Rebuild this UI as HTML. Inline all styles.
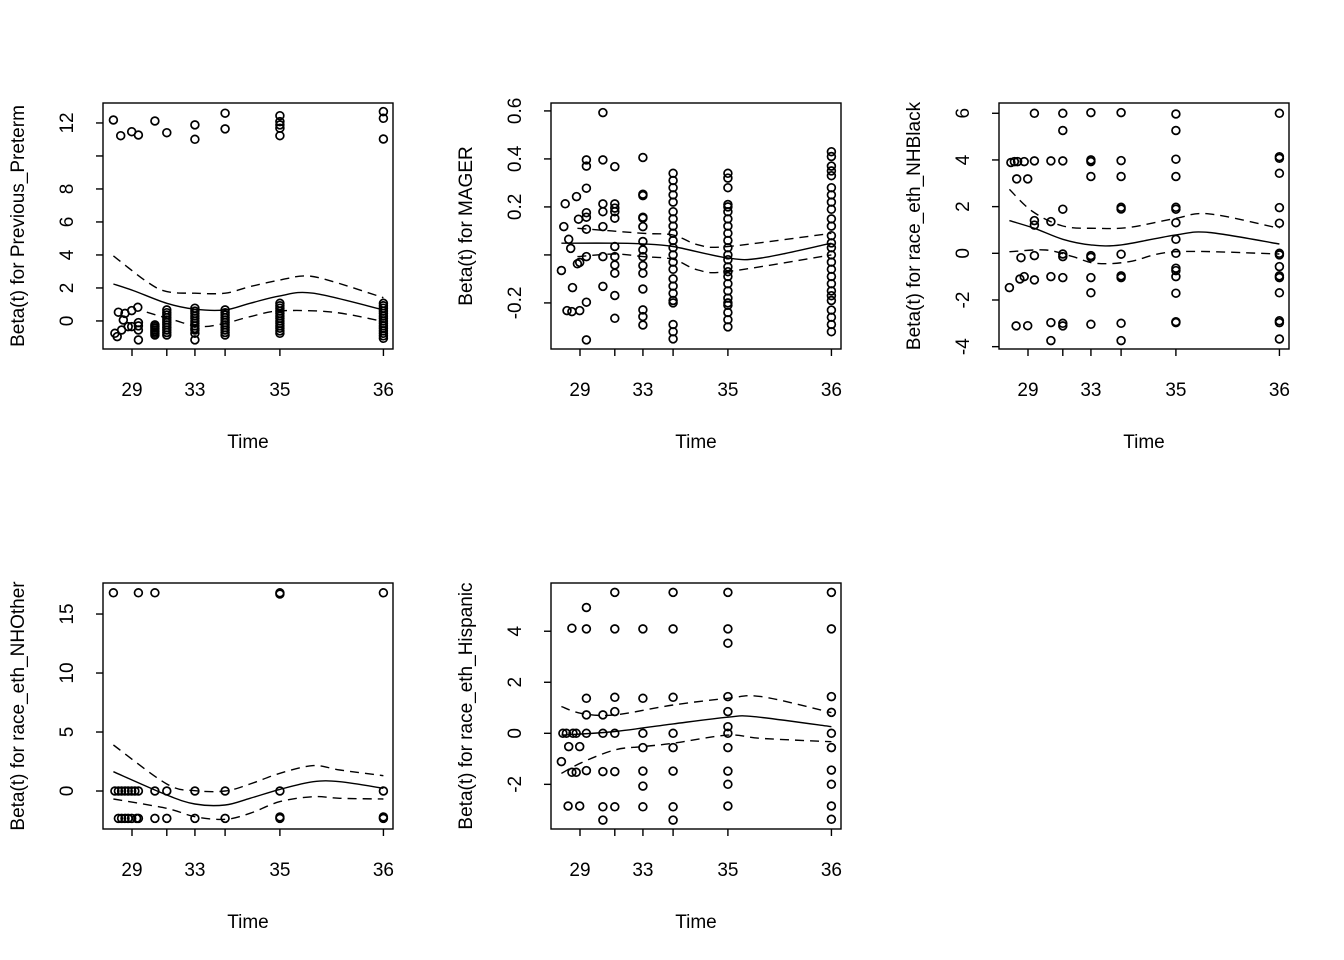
<!DOCTYPE html>
<html><head><meta charset="utf-8"><style>
html,body{margin:0;padding:0;background:#fff}
svg{display:block}
text{font-family:"Liberation Sans",Arial,sans-serif;fill:#000}
</style></head>
<body>
<svg id="fig" width="1344" height="960" viewBox="0 0 1344 960" xmlns="http://www.w3.org/2000/svg"></svg>
<script>
// shared x axis: transformed time positions
const tickTimes = ["29","31","33","34","35","36"];
const tickT = [0.1,0.22,0.317,0.421,0.61,0.967];
const tickShown = [true,false,true,false,true,true];

// Panel 1: Previous_Preterm
const p1Title = "Beta(t) for Previous_Preterm";
const p1Lim = [-1.70,13.21];
const p1YTicks = [0,2,4,6,8,10,12];
const p1YLabels = ["0","2","4","6","8","","12"];
const p1Pts = [[0.036,12.18],[0.061,11.23],[0.099,11.47],[0.122,11.27],[0.179,12.12],[0.22,11.41],[0.317,11.88],[0.317,11.01],[0.421,12.59],[0.421,11.64],[0.61,12.44],[0.61,12.08],[0.61,11.88],[0.61,11.68],[0.61,11.23],[0.967,12.69],[0.967,12.28],[0.967,11.03],
[0.053,0.53],[0.076,0.46],[0.099,0.63],[0.12,0.83],[0.07,0.06],[0.087,-0.34],[0.122,-0.1],[0.122,-0.55],[0.064,-0.55],[0.041,-0.75],[0.049,-0.95],[0.122,-1.15],[0.099,-0.34],[0.122,-0.3]];
const p1Cols = [[0.179,[-0.24,-0.34,-0.44,-0.55,-0.65,-0.75,-0.85]],[0.22,[0.67,0.5,0.36,0.2,0.06,-0.1,-0.24,-0.4,-0.55,-0.7,-0.85]],[0.317,[0.77,0.6,0.46,0.3,0.16,0,-0.14,-0.3,-0.45,-0.55,-0.75,-1.15]],[0.421,[0.67,0.5,0.36,0.2,0.06,-0.1,-0.24,-0.4,-0.55,-0.7,-0.85]],[0.61,[1.07,0.92,0.77,0.6,0.46,0.3,0.16,0,-0.14,-0.3,-0.44,-0.6,-0.75]],[0.967,[1.07,0.92,0.77,0.6,0.46,0.3,0.16,0,-0.14,-0.3,-0.44,-0.6,-0.75,-0.9,-1.05]]];
const p1FitT = [0.036,0.105,0.22,0.317,0.421,0.507,0.61,0.725,0.967];
const p1Fit = [2.24,1.84,1.07,0.71,0.67,1.07,1.52,1.68,0.67];
const p1UpT = [0.036,0.151,0.22,0.317,0.421,0.507,0.61,0.702,0.794,0.967];
const p1Up = [3.94,2.38,1.78,1.68,1.68,2.08,2.48,2.73,2.38,1.41];
const p1LoT = [0.151,0.243,0.334,0.421,0.507,0.61,0.794,0.967];
const p1Lo = [0.53,0.06,-0.34,-0.14,0.26,0.61,0.53,-0.04];

// Panel 2: MAGER
const p2Title = "Beta(t) for MAGER";
const p2Lim = [-0.392,0.633];
const p2YTicks = [-0.2,0,0.2,0.4,0.6];
const p2YLabels = ["-0.2","","0.2","0.4","0.6"];
const p2Pts = [[0.049,0.213],[0.044,0.118],[0.061,0.065],[0.068,0.027],[0.036,-0.065],[0.091,-0.037],[0.099,-0.031],[0.074,-0.136],[0.055,-0.232],[0.072,-0.236],[0.099,-0.232],[0.088,0.243],[0.095,0.149]];
const p2Cols = [[0.122,[0.396,0.37,0.278,0.176,0.157,0.107,-0.007,-0.197,-0.354]],[0.179,[0.593,0.396,0.2125,0.18,0.118,-0.007,-0.131]],[0.22,[0.368,0.2125,0.195,0.18,0.153,0.035,-0.007,-0.042,-0.076,-0.169,-0.264]],[0.317,[0.406,0.253,0.247,0.157,0.153,0.118,0.056,0.021,-0.007,-0.044,-0.076,-0.142,-0.229,-0.257,-0.292]],
[0.421,[0.34,0.31,0.28,0.25,0.22,0.18,0.15,0.12,0.09,0.06,0.03,0.0,-0.03,-0.06,-0.10,-0.13,-0.16,-0.19,-0.20,-0.29,-0.32,-0.35]],
[0.61,[0.34,0.32,0.28,0.21,0.20,0.18,0.15,0.12,0.09,0.06,0.03,0.0,-0.02,-0.05,-0.07,-0.09,-0.12,-0.15,-0.18,-0.20,-0.21,-0.24,-0.27,-0.30]],
[0.967,[0.43,0.41,0.37,0.35,0.33,0.28,0.25,0.22,0.19,0.15,0.12,0.08,0.05,0.03,0.0,-0.03,-0.06,-0.09,-0.12,-0.15,-0.17,-0.19,-0.23,-0.26,-0.29,-0.32]]];
const p2FitT = [0.036,0.22,0.317,0.421,0.61,0.725,0.967];
const p2Fit = [0.049,0.049,0.046,0.035,-0.013,-0.013,0.049];
const p2UpT = [0.091,0.317,0.421,0.507,0.61,0.967];
const p2Up = [0.111,0.09,0.083,0.042,0.035,0.09];
const p2LoT = [0.091,0.22,0.317,0.421,0.507,0.61,0.967];
const p2Lo = [-0.007,0.004,-0.007,-0.018,-0.063,-0.069,0.0];

// Panel 3: race_eth_NHBlack
const p3Title = "Beta(t) for race_eth_NHBlack";
const p3Lim = [-4.10,6.44];
const p3YTicks = [-4,-2,0,2,4,6];
const p3YLabels = ["-4","-2","0","2","4","6"];
const p3Pts = [[0.122,6.0],[0.22,6.0],[0.317,6.03],[0.421,6.03],[0.61,5.97],[0.967,6.0],[0.22,5.26],[0.61,5.26],
[0.041,3.89],[0.053,3.93],[0.064,3.93],[0.087,3.93],[0.122,3.96],[0.179,3.96],[0.22,3.96],[0.317,4.0],[0.317,3.93],[0.421,3.97],[0.61,4.03],[0.967,4.14],[0.967,4.07],
[0.061,3.19],[0.099,3.19],[0.317,3.29],[0.421,3.29],[0.61,3.29],[0.967,3.43],
[0.22,1.89],[0.421,1.97],[0.421,1.9],[0.61,1.97],[0.61,1.89],[0.967,1.96],
[0.122,1.4],[0.122,1.21],[0.179,1.36],[0.61,1.31],[0.967,1.29],[0.61,0.6],
[0.076,-0.19],[0.122,-0.1],[0.22,-0.03],[0.22,-0.14],[0.317,-0.1],[0.317,-0.17],[0.421,-0.04],[0.61,0],[0.967,0],[0.967,-0.07],[0.967,-0.57],
[0.61,-0.64],[0.61,-0.74],
[0.036,-1.47],[0.072,-1.1],[0.087,-1.0],[0.122,-1.14],[0.179,-1.0],[0.22,-1.04],[0.317,-1.04],[0.421,-0.97],[0.421,-1.04],[0.61,-1.0],[0.967,-0.97],[0.967,-1.04],
[0.317,-1.69],[0.61,-1.71],[0.967,-1.69],
[0.059,-3.11],[0.099,-3.1],[0.179,-2.97],[0.22,-3.0],[0.22,-3.11],[0.317,-3.04],[0.421,-3.0],[0.61,-2.93],[0.61,-2.97],[0.967,-2.89],[0.967,-2.97],
[0.179,-3.74],[0.421,-3.74],[0.967,-3.67]];
const p3Cols = [];
const p3FitT = [0.036,0.122,0.22,0.317,0.421,0.61,0.725,0.967];
const p3Fit = [1.4,1.07,0.6,0.36,0.36,0.79,0.89,0.4];
const p3UpT = [0.036,0.116,0.22,0.334,0.449,0.61,0.725,0.967];
const p3Up = [2.74,1.79,1.17,1.07,1.11,1.5,1.69,1.07];
const p3LoT = [0.036,0.162,0.254,0.334,0.449,0.61,0.967];
const p3Lo = [0.07,0.14,-0.14,-0.43,-0.36,0.07,-0.03];

// Panel 4: race_eth_NHOther
const p4Title = "Beta(t) for race_eth_NHOther";
const p4Lim = [-3.22,17.63];
const p4YTicks = [0,5,10,15];
const p4YLabels = ["0","5","10","15"];
const p4Pts = [[0.036,16.8],[0.122,16.8],[0.179,16.8],[0.61,16.8],[0.61,16.7],[0.967,16.8],
[0.041,0],[0.053,0],[0.064,0],[0.076,0],[0.087,0],[0.099,0],[0.11,0],[0.122,0],[0.179,0],[0.22,0],[0.317,0],[0.421,0],[0.61,0],[0.967,0],
[0.053,-2.32],[0.064,-2.32],[0.076,-2.32],[0.087,-2.32],[0.099,-2.32],[0.116,-2.32],[0.122,-2.32],[0.179,-2.32],[0.22,-2.32],[0.317,-2.32],[0.421,-2.32],[0.61,-2.32],[0.61,-2.2],[0.967,-2.32],[0.967,-2.2]];
const p4Cols = [];
const p4FitT = [0.036,0.22,0.317,0.421,0.507,0.61,0.725,0.817,0.967];
const p4Fit = [1.64,-0.34,-1.1,-1.19,-0.62,0.14,0.79,0.79,0.23];
const p4Up = [3.9,0.59,0.03,0,0.59,1.5,2.15,1.78,1.3];
const p4Lo = [-0.68,-1.47,-2.18,-2.4,-1.89,-0.9,-0.48,-0.62,-0.68];

// Panel 5: race_eth_Hispanic
const p5Title = "Beta(t) for race_eth_Hispanic";
const p5Lim = [-3.75,5.89];
const p5YTicks = [-2,0,2,4];
const p5YLabels = ["-2","0","2","4"];
const p5Pts = [[0.22,5.52],[0.421,5.52],[0.61,5.52],[0.967,5.52],[0.122,4.93],
[0.072,4.12],[0.122,4.09],[0.22,4.09],[0.317,4.09],[0.421,4.09],[0.61,4.09],[0.967,4.09],[0.61,3.53],
[0.122,1.37],[0.22,1.41],[0.317,1.37],[0.421,1.41],[0.61,1.44],[0.967,1.44],
[0.122,0.72],[0.179,0.72],[0.22,0.85],[0.61,0.85],[0.967,0.82],[0.61,0.26],
[0.041,0],[0.053,0],[0.076,0],[0.087,0],[0.122,0],[0.179,0],[0.22,0],[0.317,0],[0.421,0],[0.61,0],[0.967,0],
[0.061,-0.52],[0.099,-0.52],[0.317,-0.56],[0.421,-0.56],[0.61,-0.56],[0.967,-0.56],[0.036,-1.11],
[0.072,-1.53],[0.087,-1.53],[0.122,-1.46],[0.179,-1.5],[0.22,-1.5],[0.317,-1.48],[0.421,-1.48],[0.61,-1.48],[0.967,-1.44],
[0.317,-2.07],[0.61,-2.0],[0.967,-2.0],
[0.059,-2.85],[0.099,-2.85],[0.179,-2.88],[0.22,-2.88],[0.317,-2.88],[0.421,-2.88],[0.61,-2.85],[0.967,-2.85],
[0.179,-3.4],[0.421,-3.4],[0.967,-3.37]];
const p5Cols = [];
const p5FitT = [0.036,0.22,0.421,0.61,0.702,0.967];
const p5Fit = [-0.07,0.07,0.37,0.63,0.65,0.26];
const p5UpT = [0.036,0.105,0.22,0.421,0.61,0.725,0.967];
const p5Up = [1.05,0.78,0.72,1.11,1.37,1.44,0.81];
const p5LoT = [0.036,0.105,0.22,0.317,0.421,0.61,0.725,0.967];
const p5Lo = [-1.57,-1.15,-0.65,-0.52,-0.39,-0.07,-0.2,-0.33];

const NS = "http://www.w3.org/2000/svg";
const svg = document.getElementById('fig');
function mk(tag, attrs, parent){
  const e = document.createElementNS(NS, tag);
  for (const k in attrs) e.setAttribute(k, attrs[k]);
  (parent||svg).appendChild(e);
  return e;
}
const W = 290, H = 246;

function smoothPath(P){
  let d = 'M' + P[0][0].toFixed(1) + ' ' + P[0][1].toFixed(1);
  for (let i = 0; i < P.length-1; i++){
    const p0 = P[Math.max(0,i-1)], p1 = P[i], p2 = P[i+1], p3 = P[Math.min(P.length-1,i+2)];
    const c1x = p1[0] + (p2[0]-p0[0])/6, c1y = p1[1] + (p2[1]-p0[1])/6;
    const c2x = p2[0] - (p3[0]-p1[0])/6, c2y = p2[1] - (p3[1]-p1[1])/6;
    d += ' C' + c1x.toFixed(1)+' '+c1y.toFixed(1)+' '+c2x.toFixed(1)+' '+c2y.toFixed(1)+' '+p2[0].toFixed(1)+' '+p2[1].toFixed(1);
  }
  return d;
}

function panel(id, left, top, title, lim, yTicks, yLabels, pts, cols, fitT, fit, upT, up, loT, lo){
  const g = mk('g', {});
  
  
  const xs = t => left + t*W;
  const ys = v => top + H - (v-lim[0])/(lim[1]-lim[0])*H;
  const all = pts.slice();
  cols.forEach(c => c[1].forEach(v => all.push([c[0], v])));
  all.forEach(p => {
    const c = mk('circle', {cx:xs(p[0]).toFixed(1), cy:ys(p[1]).toFixed(1), r:3.9, fill:'none', stroke:'#000', 'stroke-width':1.7}, g);
    
    
  });
  const line = (T, V, dash, name) => {
    const P = T.map((t,i) => [xs(t), ys(V[i])]);
    const p = mk('path', {d:smoothPath(P), fill:'none', stroke:'#000', 'stroke-width':1.4, 'stroke-dasharray':dash||'none'}, g);
    
    
  };
  line(fitT, fit, null, 'smooth-fit-line');
  line(upT, up, '9 6', 'upper-confidence-band');
  line(loT, lo, '9 6', 'lower-confidence-band');
  const b = mk('rect', {x:left, y:top, width:W, height:H, fill:'none', stroke:'#000', 'stroke-width':1.4}, g);
  
  
  tickT.forEach((t,i) => {
    const x = xs(t);
    const l = mk('line', {x1:x, y1:top+H, x2:x, y2:top+H+7, stroke:'#000', 'stroke-width':1.4}, g);
    
    
    if (tickShown[i]) {
      const tx = mk('text', {x:x, y:top+H+47, 'text-anchor':'middle', 'font-size':19}, g);
      tx.textContent = tickTimes[i];
      
      
    }
  });
  yTicks.forEach((v,i) => {
    const y = ys(v);
    const l = mk('line', {x1:left-7, y1:y, x2:left, y2:y, stroke:'#000', 'stroke-width':1.4}, g);
    
    
    if (yLabels[i]) {
      const tx = mk('text', {x:0, y:0, 'text-anchor':'middle', 'font-size':19, transform:'translate('+(left-30)+','+y+') rotate(-90)'}, g);
      tx.textContent = yLabels[i];
      
      
    }
  });
  const xt = mk('text', {x:left+W/2, y:top+H+99, 'text-anchor':'middle', 'font-size':19}, g);
  xt.textContent = 'Time';
  
  
  const yt = mk('text', {x:0, y:0, 'text-anchor':'middle', 'font-size':19, transform:'translate('+(left-79)+','+(top+H/2)+') rotate(-90)'}, g);
  yt.textContent = title;
  
  
}
panel('panel-previous-preterm', 103, 103, p1Title, p1Lim, p1YTicks, p1YLabels, p1Pts, p1Cols, p1FitT, p1Fit, p1UpT, p1Up, p1LoT, p1Lo);
panel('panel-mager', 551, 103, p2Title, p2Lim, p2YTicks, p2YLabels, p2Pts, p2Cols, p2FitT, p2Fit, p2UpT, p2Up, p2LoT, p2Lo);
panel('panel-nhblack', 999, 103, p3Title, p3Lim, p3YTicks, p3YLabels, p3Pts, p3Cols, p3FitT, p3Fit, p3UpT, p3Up, p3LoT, p3Lo);
panel('panel-nhother', 103, 583, p4Title, p4Lim, p4YTicks, p4YLabels, p4Pts, p4Cols, p4FitT, p4Fit, p4FitT, p4Up, p4FitT, p4Lo);
panel('panel-hispanic', 551, 583, p5Title, p5Lim, p5YTicks, p5YLabels, p5Pts, p5Cols, p5FitT, p5Fit, p5UpT, p5Up, p5LoT, p5Lo);
</script>
</body></html>
